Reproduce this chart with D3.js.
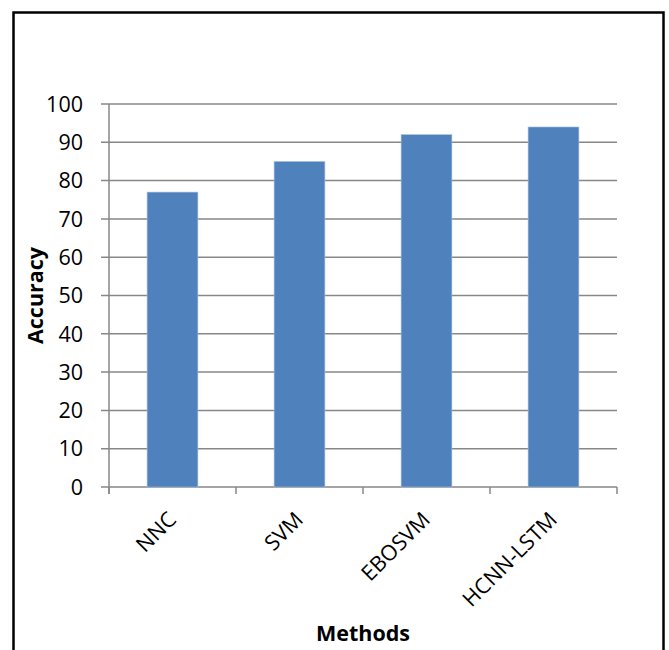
<!DOCTYPE html>
<html>
<head>
<meta charset="utf-8">
<script src="https://cdn.jsdelivr.net/npm/d3@7"></script>
<style>
  html, body { margin: 0; padding: 0; background: #fff; }
  svg { display: block; }
  text { font-family: "Open Sans", sans-serif; fill: #000; }
</style>
</head>
<body>
<svg id="chart" width="669" height="650"></svg>
<script>
const categories = ["NNC", "SVM", "EBOSVM", "HCNN-LSTM"];
const accuracy = [77, 85, 92, 94];
const yTicks = [0, 10, 20, 30, 40, 50, 60, 70, 80, 90, 100];
const xTitle = "Methods";
const yTitle = "Accuracy";

(function () {
const svg = d3.select("#chart");
const pLeft = 109, pRight = 617, pTop = 104, pBottom = 487;

// outer border
svg.append("rect")
  .attr("x", 13.5).attr("y", 12.5)
  .attr("width", 650).attr("height", 660)
  .attr("fill", "none").attr("stroke", "#000").attr("stroke-width", 2.5);

const x = d3.scaleBand().domain(categories).range([pLeft, pRight]).paddingInner(0.6).paddingOuter(0.3);
const y = d3.scaleLinear().domain([0, 100]).range([pBottom, pTop]);

const gridColor = "#878787";

// gridlines + y ticks
svg.append("g").selectAll("line").data(yTicks).join("line")
  .attr("x1", pLeft - 8).attr("x2", pRight)
  .attr("y1", d => y(d)).attr("y2", d => y(d))
  .attr("stroke", gridColor).attr("stroke-width", 1.5);

// y axis line
svg.append("line")
  .attr("x1", pLeft).attr("x2", pLeft)
  .attr("y1", y(100)).attr("y2", pBottom + 7)
  .attr("stroke", gridColor).attr("stroke-width", 1.5);

// x category boundary ticks
const step = x.step();
const boundaries = d3.range(categories.length + 1).map(i => pLeft + i * step);
svg.append("g").selectAll("line").data(boundaries).join("line")
  .attr("x1", d => d).attr("x2", d => d)
  .attr("y1", pBottom).attr("y2", pBottom + 7)
  .attr("stroke", gridColor).attr("stroke-width", 1.5);

// bars
svg.append("g").selectAll("rect").data(accuracy).join("rect")
  .attr("x", (d, i) => x(categories[i]))
  .attr("width", x.bandwidth())
  .attr("y", d => y(d))
  .attr("height", d => pBottom - y(d))
  .attr("fill", "#4F81BD")
  .attr("stroke", "#A7C0DE").attr("stroke-width", 0.6);

// y tick labels
svg.append("g").selectAll("text").data(yTicks).join("text")
  .attr("x", 83).attr("y", d => y(d)).attr("dy", "0.36em")
  .attr("text-anchor", "end")
  .attr("font-size", 21.5)
  .text(d => d);

// x category labels
svg.append("g").selectAll("text").data(categories).join("text")
  .attr("transform", d => `translate(${x(d) + x.bandwidth() / 2 + 5},${521}) rotate(-45)`)
  .attr("text-anchor", "end")
  .attr("font-size", 21.5)
  .text(d => d);

// axis titles
svg.append("text")
  .attr("x", (pLeft + pRight) / 2).attr("y", 641)
  .attr("text-anchor", "middle")
  .attr("font-size", 21.5).attr("font-weight", "bold")
  .text(xTitle);

svg.append("text")
  .attr("transform", `translate(43,${(pTop + pBottom) / 2}) rotate(-90)`)
  .attr("text-anchor", "middle")
  .attr("font-size", 21.5).attr("font-weight", "bold")
  .text(yTitle);
})();
</script>
</body>
</html>
